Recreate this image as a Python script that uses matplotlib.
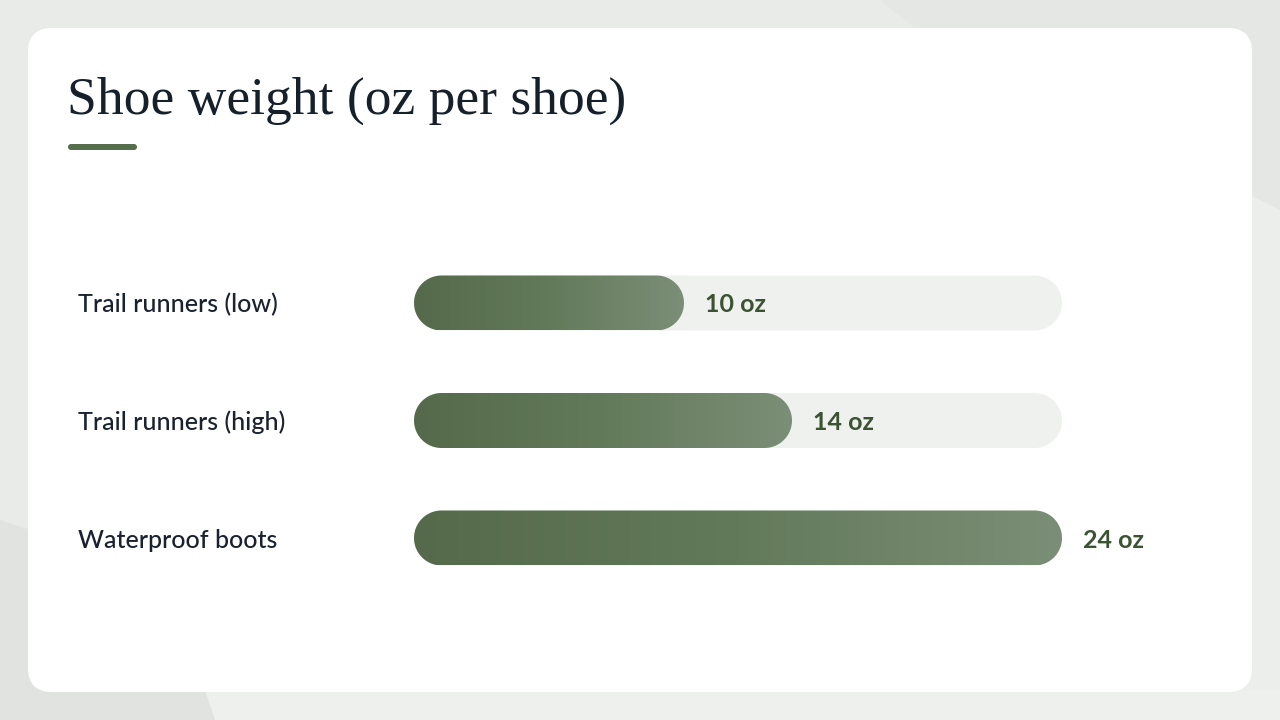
import numpy as np
import matplotlib
matplotlib.use("Agg")
import matplotlib.pyplot as plt
from matplotlib.patches import FancyBboxPatch, PathPatch, Polygon
from matplotlib.path import Path
from matplotlib.colors import LinearSegmentedColormap
import matplotlib.transforms as mtransforms

# ---- data ----
categories = ["Trail runners (low)", "Trail runners (high)", "Waterproof boots"]
weights_oz = [10, 14, 24]
value_labels = ["10 oz", "14 oz", "24 oz"]
title = "Shoe weight (oz per shoe)"
x_max = 24

W, H = 1280, 720
fig = plt.figure(figsize=(W / 100, H / 100), dpi=100)
fig.patch.set_facecolor("#e9ebe8")

# background decoration (full-figure axes in pixel coords)
bg = fig.add_axes([0, 0, 1, 1])
bg.set_xlim(0, W)
bg.set_ylim(H, 0)
bg.axis("off")
bg.add_patch(Polygon([[880, 0], [1280, 0], [1280, 210], [1180, 160], [930, 40]],
                     closed=True, fc="#e5e7e4", ec="none", zorder=0))
bg.add_patch(Polygon([[1280, 210], [1180, 160], [1180, 720], [1280, 720]],
                     closed=True, fc="#eceeeb", ec="none", zorder=0))
bg.add_patch(Polygon([[0, 520], [60, 540], [210, 690], [215, 720], [0, 720]],
                     closed=True, fc="#e1e3e0", ec="none", zorder=0))
bg.add_patch(Polygon([[215, 720], [205, 690], [1280, 690], [1280, 720]],
                     closed=True, fc="#eef0ed", ec="none", zorder=0))

# white card
card = FancyBboxPatch((28, 28), 1224, 664, boxstyle="round,pad=0,rounding_size=24",
                      fc="white", ec="none", zorder=1)
bg.add_patch(card)

# title and accent
bg.text(67, 101, title, fontsize=38.5, family="Liberation Serif", color="#16202b",
        va="center", ha="left", zorder=3)
bg.add_patch(FancyBboxPatch((68, 144), 69, 6, boxstyle="round,pad=0,rounding_size=3",
                            fc="#566e4b", ec="none", zorder=3))

# ---- bar axes ----
left_px, right_px = 414, 1062
row_px = 117.5
first_center = 303
n = len(categories)
ax_top = first_center - row_px / 2
ax_h = row_px * n
ax = fig.add_axes([left_px / W, 1 - (ax_top + ax_h) / H, (right_px - left_px) / W, ax_h / H])
ax.set_xlim(0, x_max)
ax.set_ylim(n - 0.5, -0.5)
ax.axis("off")
ax.patch.set_alpha(0)

px_x = (right_px - left_px) / x_max   # pixels per x unit
px_y = row_px                         # pixels per y unit
bar_px = 55
bh = bar_px / px_y
rx = (bar_px / 2) / px_x
ry = (bar_px / 2) / px_y


def pill(x0, x1, yc):
    t1 = np.linspace(np.pi / 2, 3 * np.pi / 2, 40)
    t2 = np.linspace(-np.pi / 2, np.pi / 2, 40)
    left = np.c_[x0 + rx + rx * np.cos(t1), yc - ry * np.sin(t1)]
    right = np.c_[x1 - rx + rx * np.cos(t2), yc - ry * np.sin(t2)]
    verts = np.vstack([left, right, left[:1]])
    codes = [Path.MOVETO] + [Path.LINETO] * (len(verts) - 2) + [Path.CLOSEPOLY]
    return Path(verts, codes)


cmap = LinearSegmentedColormap.from_list("g", ["#546a4b", "#637a5a", "#7b8e77"])
grad = np.linspace(0, 1, 256).reshape(1, -1)

for i, (v, lab) in enumerate(zip(weights_oz, value_labels)):
    track = PathPatch(pill(0, x_max, i), fc="#eff1ee", ec="none", zorder=1)
    ax.add_patch(track)
    bar = PathPatch(pill(0, v, i), fc="none", ec="none", zorder=2)
    ax.add_patch(bar)
    im = ax.imshow(grad, cmap=cmap, aspect="auto", extent=[0, v, i + bh / 2, i - bh / 2],
                   zorder=2, interpolation="bilinear")
    im.set_clip_path(bar)
    tr = mtransforms.offset_copy(ax.transData, fig=fig, x=21, y=-2, units="dots")
    ax.text(v, i, lab, transform=tr, fontsize=18, fontweight="bold", family="Lato",
            color="#3b5233", va="center", ha="left", zorder=3)
    # category label
    ytr = mtransforms.offset_copy(
        mtransforms.blended_transform_factory(fig.transFigure, ax.transData),
        fig=fig, x=0, y=-2, units="dots")
    ax.text(78 / W, i, categories[i], transform=ytr, fontsize=18, family="Lato",
            fontweight="medium", color="#1a2230", va="center", ha="left", zorder=3,
            clip_on=False)

ax.set_xlim(0, x_max)
ax.set_ylim(n - 0.5, -0.5)
fig.savefig("out.png", dpi=100, facecolor=fig.get_facecolor())
